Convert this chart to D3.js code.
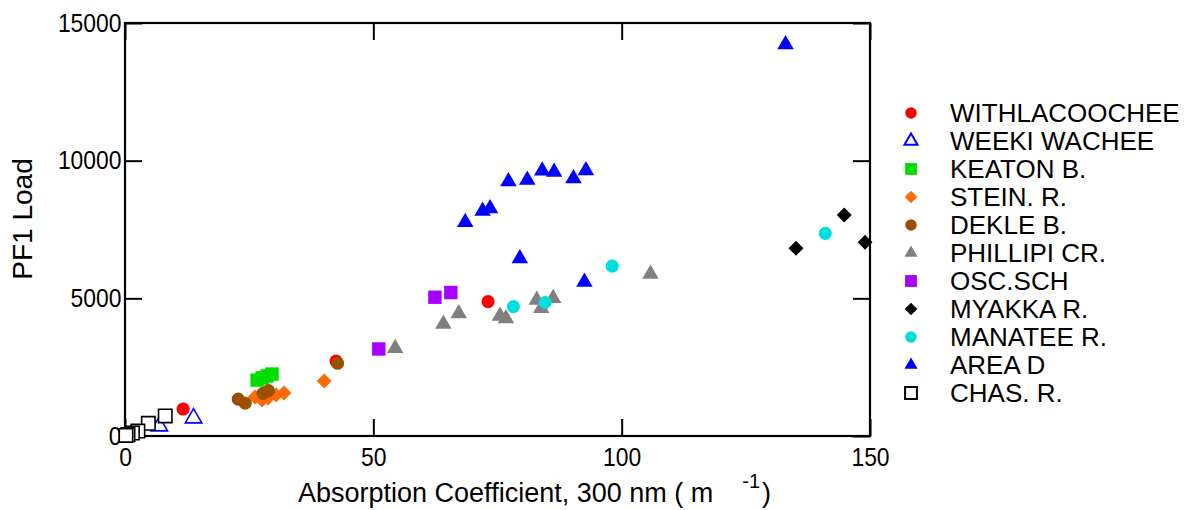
<!DOCTYPE html>
<html>
<head>
<meta charset="utf-8">
<script src="https://cdn.jsdelivr.net/npm/d3@7"></script>
<style>
  html, body { margin: 0; padding: 0; background: #fff; }
  svg { display: block; font-family: "Liberation Sans", Arial, sans-serif; }
</style>
</head>
<body>
<svg id="chart" width="1192" height="510"></svg>
<script>
// Absorption coefficient (x, 1/m) vs PF1 load (y) for each site
const withlacoochee = [[11.7, 980], [42.5, 2720], [73.1, 4880]];
const weekiWachee   = [[6.9, 360], [13.8, 650]];
const keatonB       = [[26.6, 2030], [27.6, 2110], [28.6, 2180], [29.6, 2250]];
const steinR        = [[26.2, 1420], [27.6, 1310], [28.8, 1380], [30.4, 1490], [32.0, 1560], [40.1, 2000]];
const dekleB        = [[22.8, 1340], [24.2, 1190], [27.8, 1550], [28.9, 1650], [42.8, 2640]];
const phillipiCr    = [[54.4, 3190], [64.1, 4070], [67.2, 4450], [75.5, 4360], [76.7, 4270],
                       [82.9, 4940], [83.8, 4640], [86.2, 5000], [105.8, 5880]];
const oscSch        = [[51.1, 3160], [62.4, 5040], [65.6, 5210]];
const myakkaR       = [[135.1, 6820], [144.8, 8030], [149.0, 7040]];
const manateeR      = [[78.2, 4700], [84.6, 4850], [98.1, 6170], [141.0, 7360]];
const areaD         = [[68.5, 7760], [72.0, 8170], [73.5, 8260], [77.2, 9240], [81.0, 9300],
                       [84.0, 9630], [86.4, 9590], [90.3, 9350], [92.8, 9640], [79.5, 6450],
                       [92.5, 5590], [133.0, 14220]];
const chasR         = [[8.1, 730], [4.7, 460], [2.6, 180], [1.5, 110], [0.6, 50], [0.2, 20]];

const seriesNames = ["WITHLACOOCHEE", "WEEKI WACHEE", "KEATON B.", "STEIN. R.", "DEKLE B.",
                     "PHILLIPI CR.", "OSC.SCH", "MYAKKA R.", "MANATEE R.", "AREA D", "CHAS. R."];
const seriesData  = [withlacoochee, weekiWachee, keatonB, steinR, dekleB,
                     phillipiCr, oscSch, myakkaR, manateeR, areaD, chasR];

const xTicks = [0, 50, 100, 150];
const yTicks = [0, 5000, 10000, 15000];

// Marker styles per series
const styles = [
  { shape: "circle",   fill: "#ff0000", stroke: "none" },
  { shape: "triangle", fill: "#ffffff", stroke: "#0000ff" },
  { shape: "square",   fill: "#00dd00", stroke: "none" },
  { shape: "diamond",  fill: "#ff6a00", stroke: "none" },
  { shape: "circle",   fill: "#9a5000", stroke: "none" },
  { shape: "triangle", fill: "#808080", stroke: "none" },
  { shape: "square",   fill: "#a800ff", stroke: "none" },
  { shape: "diamond",  fill: "#000000", stroke: "none" },
  { shape: "circle",   fill: "#00dede", stroke: "none" },
  { shape: "triangle", fill: "#0000ff", stroke: "none" },
  { shape: "square",   fill: "#ffffff", stroke: "#000000" }
];

const svg = d3.select("#chart");
const plotLeft = 125, plotRight = 870, plotTop = 23, plotBottom = 436;

const x = d3.scaleLinear().domain([0, 150]).range([plotLeft, plotRight]);
const y = d3.scaleLinear().domain([0, 15000]).range([plotBottom, plotTop]);

const symType = { circle: d3.symbolCircle, triangle: d3.symbolTriangle,
                  square: d3.symbolSquare, diamond: d3.symbolSquare };
const plotSize = { circle: 135, triangle: 118, square: 180, diamond: 112 };
const legendSize = { circle: 105, triangle: 75, square: 140, diamond: 80 };

function symbolPath(shape, size) {
  return d3.symbol().type(symType[shape]).size(size)();
}
function symbolTransform(shape, px, py) {
  return `translate(${px},${py})` + (shape === "diamond" ? " rotate(45)" : "");
}

// Frame
svg.append("rect")
  .attr("x", plotLeft).attr("y", plotTop)
  .attr("width", plotRight - plotLeft).attr("height", plotBottom - plotTop)
  .attr("fill", "none").attr("stroke", "#000").attr("stroke-width", 2.2);

const tickLen = 17;
const fontSize = 26;

// Bottom axis with inward ticks
svg.append("g").attr("transform", `translate(0,${plotBottom})`)
  .call(d3.axisBottom(x).tickValues(xTicks).tickFormat(d3.format("d"))
    .tickSizeInner(-tickLen).tickSizeOuter(0).tickPadding(11.5));
// Left axis with inward ticks
svg.append("g").attr("transform", `translate(${plotLeft},0)`)
  .call(d3.axisLeft(y).tickValues(yTicks).tickFormat(d3.format("d"))
    .tickSizeInner(-tickLen).tickSizeOuter(0).tickPadding(4));
// Top and right axes: ticks only
svg.append("g").attr("transform", `translate(0,${plotTop})`)
  .call(d3.axisTop(x).tickValues(xTicks).tickFormat("")
    .tickSizeInner(-tickLen).tickSizeOuter(0));
svg.append("g").attr("transform", `translate(${plotRight},0)`)
  .call(d3.axisRight(y).tickValues(yTicks).tickFormat("")
    .tickSizeInner(-tickLen).tickSizeOuter(0));

svg.selectAll(".domain").remove();
svg.selectAll(".tick line").attr("stroke", "#000").attr("stroke-width", 2);
svg.selectAll(".tick text")
  .attr("fill", "#000")
  .style("font-family", "'Liberation Sans', Arial, sans-serif")
  .style("font-size", fontSize + "px")
  .attr("transform", "scale(0.88,1)");

// Axis titles
const xTitle = svg.append("text")
  .attr("x", 298).attr("y", 502)
  .style("font-size", "27px").attr("fill", "#000");
xTitle.append("tspan").text("Absorption Coefficient, 300 nm ( m");
xTitle.append("tspan").attr("dx", 29).attr("dy", -14).style("font-size", "20px").text("-1");
xTitle.append("tspan").attr("dx", 2).attr("dy", 14).text(")");

svg.append("text")
  .attr("transform", "translate(32,219) rotate(-90)")
  .attr("text-anchor", "middle")
  .style("font-size", "28px").attr("fill", "#000")
  .text("PF1 Load");

// Data markers
const plot = svg.append("g");
seriesData.forEach((pts, i) => {
  const st = styles[i];
  plot.append("g").selectAll("path").data(pts).join("path")
    .attr("d", symbolPath(st.shape, plotSize[st.shape]))
    .attr("transform", d => symbolTransform(st.shape, x(d[0]), y(d[1])))
    .attr("fill", st.fill)
    .attr("stroke", st.stroke)
    .attr("stroke-width", st.stroke === "none" ? 0 : 1.6);
});

// Legend
const legend = svg.append("g");
seriesNames.forEach((name, i) => {
  const st = styles[i];
  const ry = 113 + i * 28;
  legend.append("path")
    .attr("d", symbolPath(st.shape, legendSize[st.shape]))
    .attr("transform", symbolTransform(st.shape, 911, ry))
    .attr("fill", st.fill)
    .attr("stroke", st.stroke)
    .attr("stroke-width", st.stroke === "none" ? 0 : 2);
  legend.append("text")
    .attr("x", 950).attr("y", ry).attr("dy", "0.35em")
    .style("font-size", fontSize + "px").attr("fill", "#000")
    .text(name);
});
</script>
</body>
</html>
